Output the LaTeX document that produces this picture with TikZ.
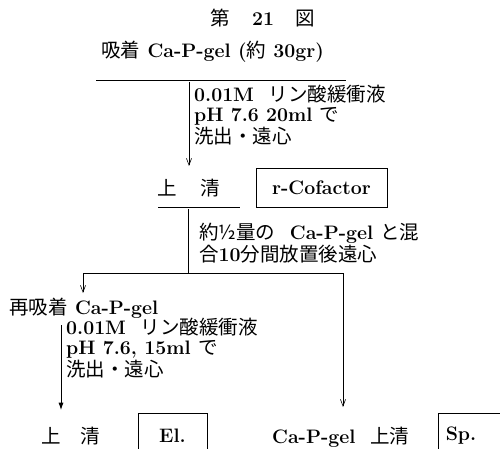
\documentclass[tikz,border=0pt]{standalone}
\usepackage{fontspec}
\newfontfamily\jpfont{Noto Sans CJK JP}
\usetikzlibrary{arrows.meta,positioning}
\newcommand{\jtext}[1]{{\jpfont\mdseries #1}}
\tikzset{
  figRule/.style={draw=black, line width=0.7pt},
  figArrow/.style={-{Straight Barb[length=2.4mm,width=1.8mm]}, draw=black, line width=0.6pt},
  figArrowBold/.style={-{Latex[length=2.6mm,width=1.8mm]}, draw=black, line width=0.8pt},
  figLabel/.style={inner sep=0pt, font=\fontsize{19.5}{20}\selectfont\bfseries},
  figNote/.style={
    inner sep=0pt,
    anchor=west,
    align=left,
    font=\fontsize{19.5}{20}\selectfont\bfseries
  },
  figBox/.style={
    draw=black,
    line width=0.7pt,
    inner sep=0pt,
    font=\fontsize{19.5}{20}\selectfont\bfseries
  }
}
\begin{document}
\begin{tikzpicture}[x=1pt, y=-1pt]
  \useasboundingbox (0,0) rectangle (500,449);

  \node[figLabel] (title) at (263,18) {\jtext{第}\hspace{22pt}21\hspace{22pt}\jtext{図}};
  \node[figLabel, anchor=west] (adsorb) at (101,52) {\jtext{吸着}\ Ca-P-gel (\jtext{約}\ 30gr)};
  \draw[figRule] (96,80) -- (346,80);

  % first elution
  \coordinate (elutA) at (189,82);
  \coordinate (supAtop) at (189,166);
  \draw[figArrow] (elutA) -- (supAtop);
  \node[figNote] (washA) at (194,115)
    {0.01M\ \ \jtext{リン酸緩衝液}\\pH 7.6 20ml \jtext{で}\\\jtext{洗出・遠心}};

  \node[figLabel] (supA) at (189,188) {\jtext{上}\hspace{24pt}\jtext{清}};
  \draw[figRule] (158,207) -- (240,207);
  \node[figBox, minimum width=131pt, minimum height=39pt] (cofactor) at (321.5,187.5) {r-Cofactor};

  % mixing with Ca-P-gel
  \coordinate (mixTop) at (188,209);
  \coordinate (split) at (188,273);
  \draw[figRule] (mixTop) -- (split);
  \node[figNote] (mix) at (199,243)
    {\jtext{約½量の}\ \ Ca-P-gel \jtext{と混}\\\jtext{合}10\jtext{分間放置後遠心}};
  \coordinate (splitL) at (83,273);
  \coordinate (splitR) at (343,273);
  \draw[figRule] (splitL) -- (splitR);
  \coordinate (readsTop) at (83,293);
  \draw[figArrow] (splitL) -- (readsTop);

  \node[figLabel, anchor=west] (readsorb) at (9,308) {\jtext{再吸着}\ Ca-P-gel};

  % second elution
  \coordinate (elutB) at (61,325);
  \coordinate (supBtop) at (61,410);
  \draw[figArrowBold] (elutB) -- (supBtop);
  \node[figNote] (washB) at (66,348)
    {0.01M\ \ \jtext{リン酸緩衝液}\\pH 7.6, 15ml \jtext{で}\\\jtext{洗出・遠心}};

  \node[figLabel] (supB) at (71,436) {\jtext{上}\hspace{20pt}\jtext{清}};
  \node[figBox, minimum width=69pt, minimum height=57pt] (el) at (172.5,441.5) {};
  \node[figLabel] (elText) at (172.5,436) {El.};

  \coordinate (gelTop) at (343,407);
  \draw[figArrow] (splitR) -- (gelTop);
  \node[figLabel, anchor=west] (gelSup) at (272,437) {Ca-P-gel\ \ \jtext{上清}};
  \node[figBox, minimum width=82pt, minimum height=57pt] (sp) at (479,441.5) {};
  \node[figLabel] (spText) at (461,436) {Sp.};
\end{tikzpicture}
\end{document}
